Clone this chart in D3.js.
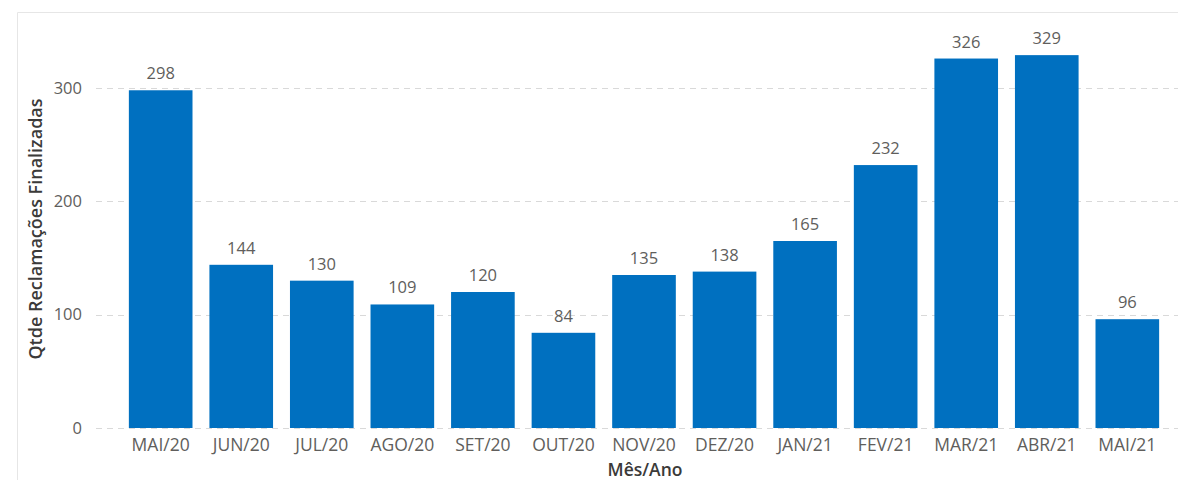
<!DOCTYPE html>
<html>
<head>
<meta charset="utf-8">
<script src="https://cdn.jsdelivr.net/npm/d3@7"></script>
<style>
  body { margin: 0; background: #fff; }
  svg { display: block; font-family: "Open Sans", "Noto Sans", sans-serif; }
</style>
</head>
<body>
<svg id="chart" width="1178" height="480"></svg>
<script>
const months = ["MAI/20", "JUN/20", "JUL/20", "AGO/20", "SET/20", "OUT/20", "NOV/20",
                "DEZ/20", "JAN/21", "FEV/21", "MAR/21", "ABR/21", "MAI/21"];
const values = [298, 144, 130, 109, 120, 84, 135, 138, 165, 232, 326, 329, 96];
const yTicks = [0, 100, 200, 300];

const svg = d3.select("#chart");

// light frame of the visual
svg.append("path")
    .attr("d", "M17.5,480 V12.5 H1178")
    .attr("fill", "none")
    .attr("stroke", "#e6e6e6")
    .attr("stroke-width", 1);

const x = d3.scaleBand()
    .domain(months)
    .range([120, 1168])
    .paddingInner(0.21)
    .paddingOuter(0.11);

const y = d3.scaleLinear()
    .domain([0, 300])
    .range([428, 88]);

// gridlines
svg.append("g")
    .selectAll("line")
    .data(yTicks)
    .join("line")
    .attr("x1", 96)
    .attr("x2", 1178)
    .attr("y1", d => Math.round(y(d)) + 0.5)
    .attr("y2", d => Math.round(y(d)) + 0.5)
    .attr("stroke", "#d9d9d9")
    .attr("stroke-width", 1)
    .attr("stroke-dasharray", "6,5");

// y tick labels
svg.append("g")
    .selectAll("text")
    .data(yTicks)
    .join("text")
    .attr("x", 82)
    .attr("y", d => y(d))
    .attr("dy", "0.35em")
    .attr("text-anchor", "end")
    .attr("fill", "#605e5c")
    .attr("font-size", "16.5px")
    .text(d => d);

// bars
svg.append("g")
    .selectAll("rect")
    .data(values)
    .join("rect")
    .attr("x", (d, i) => x(months[i]))
    .attr("y", d => y(d))
    .attr("width", x.bandwidth())
    .attr("height", d => y(0) - y(d))
    .attr("fill", "#0070c0");

// data labels
svg.append("g")
    .selectAll("text")
    .data(values)
    .join("text")
    .attr("x", (d, i) => x(months[i]) + x.bandwidth() / 2)
    .attr("y", d => y(d) - 11)
    .attr("text-anchor", "middle")
    .attr("fill", "#605e5c")
    .attr("font-size", "16.5px")
    .text(d => d);

// x tick labels
svg.append("g")
    .selectAll("text")
    .data(months)
    .join("text")
    .attr("x", d => x(d) + x.bandwidth() / 2)
    .attr("y", 451)
    .attr("text-anchor", "middle")
    .attr("fill", "#605e5c")
    .attr("font-size", "17.5px")
    .text(d => d);

// axis titles
svg.append("text")
    .attr("x", 645)
    .attr("y", 476)
    .attr("text-anchor", "middle")
    .attr("fill", "#3b3a39")
    .attr("font-size", "17.5px")
    .attr("font-weight", "600")
    .text("Mês/Ano");

svg.append("text")
    .attr("transform", "translate(42,229) rotate(-90)")
    .attr("text-anchor", "middle")
    .attr("fill", "#3b3a39")
    .attr("font-size", "18px")
    .attr("font-weight", "600")
    .text("Qtde Reclamações Finalizadas");
</script>
</body>
</html>
